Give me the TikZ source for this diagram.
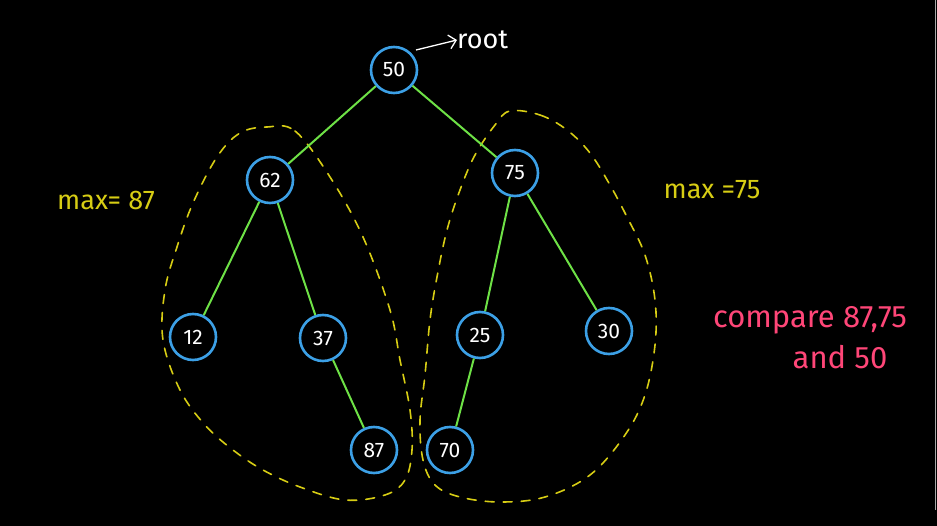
\documentclass[tikz,border=0pt]{standalone}
\usepackage{fontspec}
\setmainfont{Fira Sans}
\usetikzlibrary{arrows.meta}
\definecolor{nodeblue}{RGB}{60,160,230}
\definecolor{edgegreen}{RGB}{110,225,70}
\definecolor{hlyellow}{RGB}{215,205,20}
\definecolor{notepink}{RGB}{255,70,120}
\tikzset{
  treenode/.style={circle, draw=nodeblue, line width=2.6pt, fill=black, minimum size=46pt, inner sep=0pt, text=white, font=\fontsize{21}{21}\selectfont},
  treeedge/.style={draw=edgegreen, line width=2pt},
  enclosure/.style={draw=hlyellow, line width=1.6pt, dash pattern=on 9pt off 9pt, line cap=round},
  yellownote/.style={text=hlyellow, font=\fontsize{27}{27}\selectfont, inner sep=0pt},
  pinknote/.style={text=notepink, font=\fontsize{31}{31}\selectfont, inner sep=0pt},
}
\begin{document}
\begin{tikzpicture}[x=1pt,y=-1pt]
\fill[black] (0,0) rectangle (937,526);
\useasboundingbox (0,0) rectangle (937,526);
\draw[gray!70, line width=1pt] (935.5,0) -- (935.5,510);

% enclosures
\draw[enclosure] plot[smooth cycle, tension=0.6] coordinates {
  (267,127) (295,131) (330,177) (363,237) (390,310) (400,360) (410,410) (412,450) (405,480) (385,495) (345,500) (300,487) (263,470) (233,450) (205,425) (180,390) (163,340) (165,290) (177,247) (193,203) (217,157) (240,133)};
\draw[enclosure] plot[smooth cycle, tension=0.6] coordinates {
  (510,111) (540,115) (567,130) (590,153) (610,185) (627,217) (645,255) (655,300) (655,345) (645,395) (625,435) (590,475) (545,497) (500,502) (460,497) (435,485) (423,460) (420,420) (425,375) (430,320) (437,277) (447,230) (460,190) (475,155) (495,125)};

% nodes
\node[treenode] (n50) at (394,70) {50};
\node[treenode] (n62) at (270,180) {62};
\node[treenode] (n75) at (515,173) {75};
\node[treenode] (n12) at (193,337) {12};
\node[treenode] (n37) at (323,338) {37};
\node[treenode] (n25) at (480,335) {25};
\node[treenode] (n30) at (609,331) {30};
\node[treenode] (n87) at (374,450) {87};
\node[treenode] (n70) at (450,450) {70};

% edges
\draw[treeedge] (n50) -- (n62);
\draw[treeedge] (n50) -- (n75);
\draw[treeedge] (n62) -- (n12);
\draw[treeedge] (n62) -- (n37);
\draw[treeedge] (n37) -- (n87);
\draw[treeedge] (n75) -- (n25);
\draw[treeedge] (n75) -- (n30);
\draw[treeedge] (n25) -- (n70);

% root label
\node[text=white, font=\fontsize{27}{27}\selectfont, inner sep=0pt, anchor=west] (rootlbl) at (457,40) {root};
\coordinate (rootstart) at (416,50);
\draw[white, line width=1.3pt, -{Straight Barb[length=7pt]}] (rootstart) -- (rootlbl.west);

% notes
\node[yellownote] (maxl) at (106,200) {max= 87};
\node[yellownote] (maxr) at (712,190) {max =75};
\node[pinknote] (cmp1) at (810,320) {compare 87,75};
\node[pinknote] (cmp2) at (840,357) {and 50};
\end{tikzpicture}
\end{document}
